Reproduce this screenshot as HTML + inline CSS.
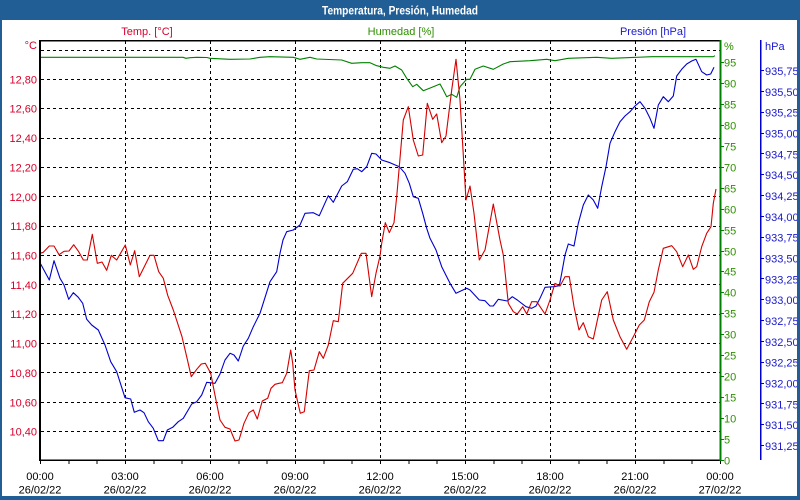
<!DOCTYPE html>
<html><head><meta charset="utf-8"><style>
html,body{margin:0;padding:0;background:#fff;}
svg{display:block;}
text{font-family:"Liberation Sans",Arial,sans-serif;font-size:11px;}
</style></head><body>
<svg width="800" height="500" viewBox="0 0 800 500" xmlns="http://www.w3.org/2000/svg">
<rect x="0" y="0" width="800" height="500" fill="#215e96"/>
<rect x="2" y="20" width="795" height="476" fill="#ffffff"/>
<text x="400" y="14.5" text-anchor="middle" fill="#ffffff" font-weight="bold" style="font-size:12px" textLength="156" lengthAdjust="spacingAndGlyphs">Temperatura, Presión, Humedad</text>

<text x="147" y="35" text-anchor="middle" fill="#d8002a">Temp. [°C]</text>
<text x="401" y="35" text-anchor="middle" fill="#2e8f00">Humedad [%]</text>
<text x="653" y="35" text-anchor="middle" fill="#1a1ad0">Presión [hPa]</text>

<g stroke="#000" stroke-width="1" stroke-dasharray="3,3" shape-rendering="crispEdges">
<line x1="41" y1="50.5" x2="720" y2="50.5"/>
<line x1="41" y1="79.5" x2="720" y2="79.5"/>
<line x1="41" y1="108.5" x2="720" y2="108.5"/>
<line x1="41" y1="138.5" x2="720" y2="138.5"/>
<line x1="41" y1="167.5" x2="720" y2="167.5"/>
<line x1="41" y1="196.5" x2="720" y2="196.5"/>
<line x1="41" y1="226.5" x2="720" y2="226.5"/>
<line x1="41" y1="255.5" x2="720" y2="255.5"/>
<line x1="41" y1="284.5" x2="720" y2="284.5"/>
<line x1="41" y1="314.5" x2="720" y2="314.5"/>
<line x1="41" y1="343.5" x2="720" y2="343.5"/>
<line x1="41" y1="372.5" x2="720" y2="372.5"/>
<line x1="41" y1="402.5" x2="720" y2="402.5"/>
<line x1="41" y1="431.5" x2="720" y2="431.5"/>
<line x1="125.5" y1="41" x2="125.5" y2="460"/>
<line x1="210.5" y1="41" x2="210.5" y2="460"/>
<line x1="295.5" y1="41" x2="295.5" y2="460"/>
<line x1="380.5" y1="41" x2="380.5" y2="460"/>
<line x1="465.5" y1="41" x2="465.5" y2="460"/>
<line x1="550.5" y1="41" x2="550.5" y2="460"/>
<line x1="635.5" y1="41" x2="635.5" y2="460"/>
</g>

<!-- humidity -->
<polyline fill="none" stroke="#008000" stroke-width="1.1" stroke-linejoin="round" points="40,57.3 183,57.3 186,58.3 190,57.7 197,57.3 207,57.5 210,58.3 230,59.3 250,59 260,57.3 270,56.7 293.3,57.3 300,59.3 310,57.3 316.7,59 341.7,60 351.7,63.3 361.7,62.7 370,62.7 376.7,65.7 383.3,67.3 390,68.3 395,66 401.7,70 406.7,78.3 412.7,86.7 416.7,84.3 423.3,90.7 433.3,86.7 440,84 443.3,90 446.7,96.7 451.7,94.3 456.7,97.3 460,86.7 466.7,79.3 470,79.3 475,69.3 483.3,66 493.3,69.3 503.3,64 510,61.7 530,60.7 546.7,59.3 555,60.7 568.3,58.3 596.7,57.3 611.7,58.3 651.7,56.7 713.3,56.7 715,55.7"/>

<!-- pressure -->
<polyline fill="none" stroke="#0000d0" stroke-width="1.1" stroke-linejoin="round" points="40,262.7 49.3,280 54,260.7 60,278.3 64,285 68.7,299.3 73.3,292.7 78.3,297.3 82.7,303.3 86.7,319.3 91.7,325 98.3,330 105,345 110.7,361.7 116.7,371.7 125,397.7 130.7,399 134.3,412.3 140,410 144,412.7 148.3,421.7 153.3,428.3 158.3,440.7 163.3,440.7 167.3,430 172.7,427.3 178.3,421.7 183.3,418.3 191.7,404 196.7,401.7 201.7,395 206.7,382.3 215,383.3 220,374 225,360 230,353.3 234,355 238.3,361 243.3,346 248.3,338.3 253.3,326.7 260,313.3 270,281.7 276.7,271.7 280,253.3 283,240 286.7,231.7 293.3,230 300,225 305,213.3 313.3,212.7 319.3,215.7 328.3,195.7 333.3,202.3 341.7,186 347.3,181.7 353.3,169.3 357.3,168.7 361.7,171.7 366.7,166.7 371.7,153.3 376,154 381.7,160 390,162.7 399.3,166.7 405,173.3 409.3,183.3 413.3,196.7 418.3,198.3 422.7,213.3 426.7,228.3 430,238.3 436,250 441.7,266.7 450,283.3 456,293.3 466.7,288.3 470,290 479.3,300 485,300.7 490,306 493.3,306 498.3,299.3 507.3,301 512.3,296.7 517.3,300 526,306.7 531.7,308.3 536,306 540,298.3 545,287.3 553.3,286.7 559.3,285.7 561.7,273.3 565,255 568.3,244 574,246 578.3,223.3 583.3,205 588.3,195 593.3,200 597.7,208.3 601.7,186.7 606,166.7 610,143.3 615,131.7 620,121.7 625,116 630,111.7 635,106 640,101.7 645,108.3 650,118.3 654,128.3 658.3,105 663.3,96.7 668.3,101.7 673.3,96 676.7,76 681.7,69.3 686.7,64 691.7,61 696,59.3 701.7,71.7 706.7,75 710.7,74 714,67.3"/>

<!-- temperature -->
<polyline fill="none" stroke="#d40000" stroke-width="1.1" stroke-linejoin="round" points="40,253.3 43.3,252.3 49.3,246 54,246 59,254.7 64,251.3 69,251 73.7,244.7 78.7,251.7 83.3,260 87.3,260 92.3,234.3 97.3,263.3 102,262 106.7,270.3 111.3,255.3 116.7,260 125.3,245 130.3,265 134.7,250.7 139.3,276.7 150,255.3 154,255.3 158.7,271.7 163.3,278.3 167.7,295.3 173.3,310 182,336.7 186.7,356.7 191.3,376.7 196.7,369.3 201.3,364 205.3,363.3 210.7,373.3 215.3,396.7 220,420 225,427.3 230,429 235,441 239,440 244,423.3 249,412.7 253.3,410 257.3,419 262.3,401 267.7,398.3 271,388.3 275,384.3 279,383.3 282.3,382.7 286.7,373.3 290.7,350 292.7,363.3 295,390 300.3,413.3 304.3,411.7 309.3,370.7 314,370 319.3,351.7 323.3,358.3 328.3,345 333.3,320.7 338.3,321.7 342.7,283.3 352.7,273.3 361.3,253.3 366,253.3 371.7,296.7 376,273.3 380,256 381.7,243.3 385.3,222.7 389.3,232.7 394,222.7 396.7,196.7 403.3,120 408.3,106.7 413.3,140 418.3,156 422.7,155 427.3,103.3 432.7,119.3 436.7,114 441.7,142.7 446,136 451.7,90 456,59.3 460,100 466,200 470,186 474,213.3 479.3,260 485,250 493.3,204 500,240 503.3,255 508.3,303.3 513.3,311.7 517.3,314 522.7,306.7 526.7,314 531.7,301.7 536.7,301.7 545,314 550,300 555,283.3 560,286 565,276.7 569.3,276.7 574,306.7 579,330 583.3,322.7 588.3,336.7 593.3,339 601.7,300 607.3,291.7 613.3,320 620,336.7 626.7,349.3 633.3,336.7 639.3,325 644.3,320 649.3,301.7 654,292.3 658.3,270 663.3,248.3 671.7,245.7 676.7,251.7 682.7,266.7 688.3,255 693.3,269.3 696.7,266.7 701.7,246.7 706.7,233.3 711,226.7 713.3,203.3 716,189"/>

<!-- frame -->
<g shape-rendering="crispEdges">
<rect x="39" y="40" width="681" height="1.5" fill="#000"/>
<rect x="39" y="40" width="2" height="421" fill="#000"/>
<rect x="39" y="459.5" width="682" height="1.5" fill="#000"/>
<rect x="719.5" y="40" width="2" height="421" fill="#008000"/>
<rect x="760" y="40" width="1.5" height="420" fill="#0000d0"/>
</g>

<!-- x ticks -->
<g stroke="#000" stroke-width="1" shape-rendering="crispEdges">
<line x1="40.5" y1="460" x2="40.5" y2="464"/><line x1="68.8" y1="460" x2="68.8" y2="464"/><line x1="97.2" y1="460" x2="97.2" y2="464"/>
<line x1="125.5" y1="460" x2="125.5" y2="464"/><line x1="153.8" y1="460" x2="153.8" y2="464"/><line x1="182.2" y1="460" x2="182.2" y2="464"/>
<line x1="210.5" y1="460" x2="210.5" y2="464"/><line x1="238.8" y1="460" x2="238.8" y2="464"/><line x1="267.2" y1="460" x2="267.2" y2="464"/>
<line x1="295.5" y1="460" x2="295.5" y2="464"/><line x1="323.8" y1="460" x2="323.8" y2="464"/><line x1="352.2" y1="460" x2="352.2" y2="464"/>
<line x1="380.5" y1="460" x2="380.5" y2="464"/><line x1="408.8" y1="460" x2="408.8" y2="464"/><line x1="437.2" y1="460" x2="437.2" y2="464"/>
<line x1="465.5" y1="460" x2="465.5" y2="464"/><line x1="493.8" y1="460" x2="493.8" y2="464"/><line x1="522.2" y1="460" x2="522.2" y2="464"/>
<line x1="550.5" y1="460" x2="550.5" y2="464"/><line x1="578.8" y1="460" x2="578.8" y2="464"/><line x1="607.2" y1="460" x2="607.2" y2="464"/>
<line x1="635.5" y1="460" x2="635.5" y2="464"/><line x1="663.8" y1="460" x2="663.8" y2="464"/><line x1="692.2" y1="460" x2="692.2" y2="464"/>
<line x1="720.5" y1="460" x2="720.5" y2="464"/>
</g>

<!-- x labels -->
<g fill="#000" text-anchor="middle">
<text x="40" y="480">00:00</text><text x="40" y="493.5">26/02/22</text>
<text x="125" y="480">03:00</text><text x="125" y="493.5">26/02/22</text>
<text x="210" y="480">06:00</text><text x="210" y="493.5">26/02/22</text>
<text x="295" y="480">09:00</text><text x="295" y="493.5">26/02/22</text>
<text x="380" y="480">12:00</text><text x="380" y="493.5">26/02/22</text>
<text x="465" y="480">15:00</text><text x="465" y="493.5">26/02/22</text>
<text x="550" y="480">18:00</text><text x="550" y="493.5">26/02/22</text>
<text x="635" y="480">21:00</text><text x="635" y="493.5">26/02/22</text>
<text x="720" y="480">00:00</text><text x="720" y="493.5">27/02/22</text>
</g>

<!-- temp labels -->
<g fill="#d8002a" text-anchor="end">
<text x="37" y="49">°C</text>
<text x="37" y="83.4">12,80</text>
<text x="37" y="112.7">12,60</text>
<text x="37" y="142.1">12,40</text>
<text x="37" y="171.4">12,20</text>
<text x="37" y="200.8">12,00</text>
<text x="37" y="230.2">11,80</text>
<text x="37" y="259.5">11,60</text>
<text x="37" y="288.9">11,40</text>
<text x="37" y="318.2">11,20</text>
<text x="37" y="347.6">11,00</text>
<text x="37" y="377">10,80</text>
<text x="37" y="406.3">10,60</text>
<text x="37" y="435.7">10,40</text>
</g>

<!-- humidity ticks & labels -->
<g stroke="#008000" stroke-width="1" shape-rendering="crispEdges">
<line x1="720" y1="460.5" x2="724" y2="460.5"/><line x1="720" y1="439.5" x2="724" y2="439.5"/><line x1="720" y1="418.5" x2="724" y2="418.5"/><line x1="720" y1="397.5" x2="724" y2="397.5"/>
<line x1="720" y1="376.5" x2="724" y2="376.5"/><line x1="720" y1="355.5" x2="724" y2="355.5"/><line x1="720" y1="334.5" x2="724" y2="334.5"/><line x1="720" y1="313.5" x2="724" y2="313.5"/>
<line x1="720" y1="292.5" x2="724" y2="292.5"/><line x1="720" y1="271.5" x2="724" y2="271.5"/><line x1="720" y1="251.5" x2="724" y2="251.5"/><line x1="720" y1="230.5" x2="724" y2="230.5"/>
<line x1="720" y1="209.5" x2="724" y2="209.5"/><line x1="720" y1="188.5" x2="724" y2="188.5"/><line x1="720" y1="167.5" x2="724" y2="167.5"/><line x1="720" y1="146.5" x2="724" y2="146.5"/>
<line x1="720" y1="125.5" x2="724" y2="125.5"/><line x1="720" y1="104.5" x2="724" y2="104.5"/><line x1="720" y1="83.5" x2="724" y2="83.5"/><line x1="720" y1="62.5" x2="724" y2="62.5"/>
</g>
<g fill="#2e8f00">
<text x="724" y="50">%</text>
<text x="724" y="66.5">95</text>
<text x="724" y="87.5">90</text>
<text x="724" y="108.5">85</text>
<text x="724" y="129.5">80</text>
<text x="724" y="150.5">75</text>
<text x="724" y="171.5">70</text>
<text x="724" y="192.5">65</text>
<text x="724" y="213.5">60</text>
<text x="724" y="234.5">55</text>
<text x="724" y="255.5">50</text>
<text x="724" y="275.5">45</text>
<text x="724" y="296.5">40</text>
<text x="724" y="317.5">35</text>
<text x="724" y="338.5">30</text>
<text x="724" y="359.5">25</text>
<text x="724" y="380.5">20</text>
<text x="724" y="401.5">15</text>
<text x="724" y="422.5">10</text>
<text x="724" y="443.5">5</text>
<text x="724" y="464.5">0</text>
</g>

<!-- pressure ticks & labels -->
<g stroke="#0000d0" stroke-width="1" shape-rendering="crispEdges">
<line x1="760" y1="70.5" x2="764" y2="70.5"/><line x1="760" y1="91.5" x2="764" y2="91.5"/><line x1="760" y1="112.5" x2="764" y2="112.5"/><line x1="760" y1="133.5" x2="764" y2="133.5"/>
<line x1="760" y1="153.5" x2="764" y2="153.5"/><line x1="760" y1="174.5" x2="764" y2="174.5"/><line x1="760" y1="195.5" x2="764" y2="195.5"/><line x1="760" y1="216.5" x2="764" y2="216.5"/>
<line x1="760" y1="237.5" x2="764" y2="237.5"/><line x1="760" y1="258.5" x2="764" y2="258.5"/><line x1="760" y1="278.5" x2="764" y2="278.5"/><line x1="760" y1="299.5" x2="764" y2="299.5"/>
<line x1="760" y1="320.5" x2="764" y2="320.5"/><line x1="760" y1="341.5" x2="764" y2="341.5"/><line x1="760" y1="362.5" x2="764" y2="362.5"/><line x1="760" y1="383.5" x2="764" y2="383.5"/>
<line x1="760" y1="403.5" x2="764" y2="403.5"/><line x1="760" y1="424.5" x2="764" y2="424.5"/><line x1="760" y1="445.5" x2="764" y2="445.5"/>
</g>
<g fill="#1a1ad0">
<text x="765" y="50">hPa</text>
<text x="765" y="75">935,75</text>
<text x="765" y="95.8">935,50</text>
<text x="765" y="116.7">935,25</text>
<text x="765" y="137.5">935,00</text>
<text x="765" y="158.3">934,75</text>
<text x="765" y="179.2">934,50</text>
<text x="765" y="200">934,25</text>
<text x="765" y="220.8">934,00</text>
<text x="765" y="241.7">933,75</text>
<text x="765" y="262.5">933,50</text>
<text x="765" y="283.3">933,25</text>
<text x="765" y="304.2">933,00</text>
<text x="765" y="325">932,75</text>
<text x="765" y="345.8">932,50</text>
<text x="765" y="366.7">932,25</text>
<text x="765" y="387.5">932,00</text>
<text x="765" y="408.3">931,75</text>
<text x="765" y="429.2">931,50</text>
<text x="765" y="450">931,25</text>
</g>

<!-- window border on top -->
<rect x="797" y="20" width="3" height="480" fill="#215e96"/>
<rect x="0" y="496" width="800" height="4" fill="#215e96"/>
<rect x="0" y="20" width="2" height="480" fill="#215e96"/>
</svg>
</body></html>
